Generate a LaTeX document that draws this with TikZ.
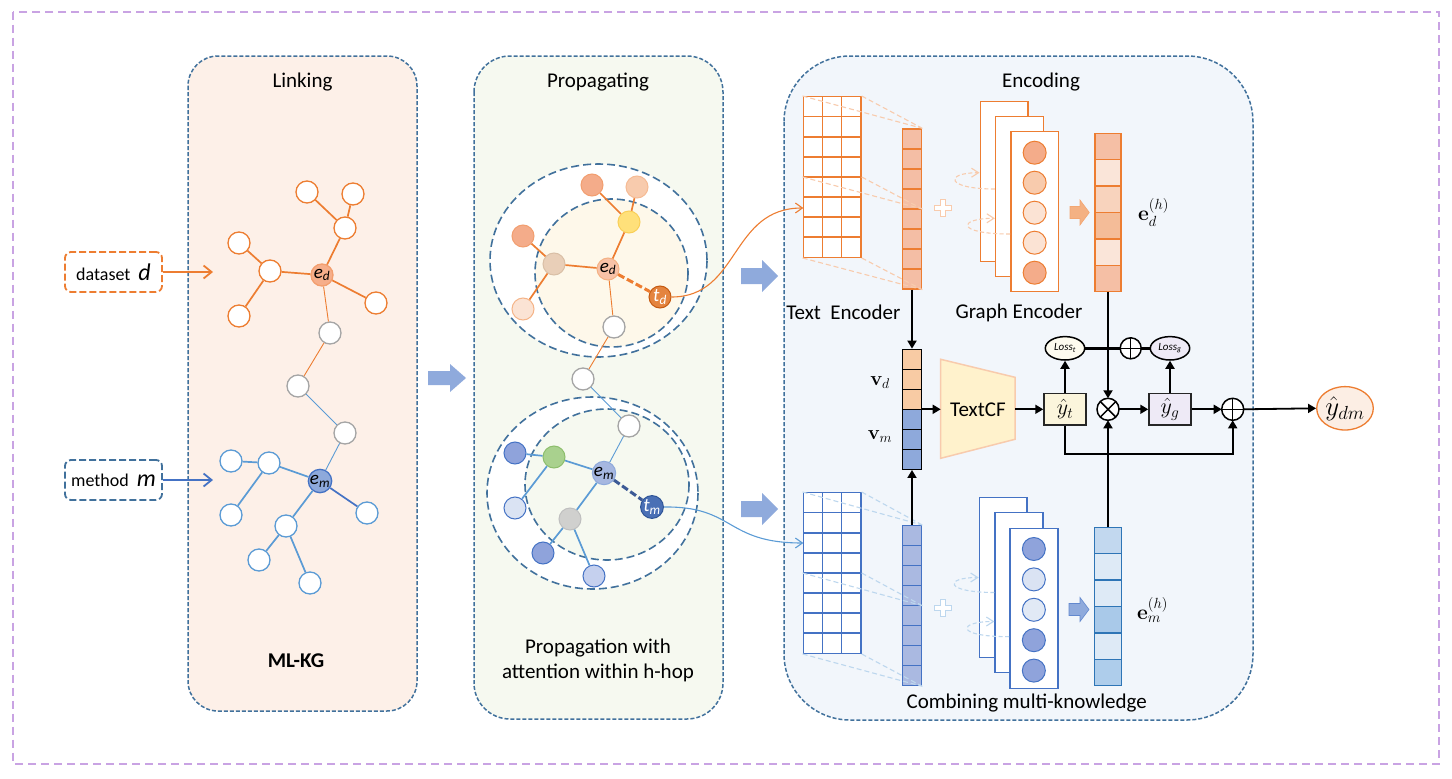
\RequirePackage{fix-cm}
\documentclass[tikz,border=0pt]{standalone}
\usepackage{amsmath}
\usepackage[no-math]{fontspec}
\setmainfont{Carlito}
\usepackage{tikz}
\usetikzlibrary{arrows.meta,shapes.geometric}

\definecolor{outerframe}{HTML}{C9A3E3}
\definecolor{panelblue}{HTML}{41719C}
\definecolor{linkfill}{HTML}{FDF0E8}
\definecolor{propfill}{HTML}{F6F9F0}
\definecolor{encfill}{HTML}{F2F6FB}
\definecolor{kgorange}{HTML}{ED7D31}
\definecolor{kgblue}{HTML}{5B9BD5}
\definecolor{kgdblue}{HTML}{4472C4}
\definecolor{kggray}{HTML}{A5A5A5}
\definecolor{salmon}{HTML}{F4AC8A}
\definecolor{peach}{HTML}{F8CBAD}
\definecolor{lpeach}{HTML}{FBE3D4}
\definecolor{hopcream}{HTML}{FEF8EA}
\definecolor{hopyellow}{HTML}{FFE07A}
\definecolor{hopyellowd}{HTML}{F9CF58}
\definecolor{ntan}{HTML}{E9CFB8}
\definecolor{ntand}{HTML}{D9BFA6}
\definecolor{edfill}{HTML}{F6AE8A}
\definecolor{tdfill}{HTML}{E4843F}
\definecolor{tddraw}{HTML}{C55A11}
\definecolor{emfill}{HTML}{8EA9DB}
\definecolor{pemfill}{HTML}{A6B7E0}
\definecolor{tmfill}{HTML}{4A70B5}
\definecolor{tmdraw}{HTML}{2F5597}
\definecolor{nblue}{HTML}{8FA3DB}
\definecolor{lblue}{HTML}{DAE3F3}
\definecolor{mblue}{HTML}{C5D0EE}
\definecolor{ngreen}{HTML}{A9D18E}
\definecolor{ngreend}{HTML}{8DBE6C}
\definecolor{ngray}{HTML}{D0D0CE}
\definecolor{ngrayd}{HTML}{BFBFBF}
\definecolor{fatblue}{HTML}{8FAADC}
\definecolor{fatorange}{HTML}{F4B183}
\definecolor{tbarfill}{HTML}{F4BEA5}
\definecolor{mbarfill}{HTML}{AAB9E1}
\definecolor{projblue}{HTML}{BDD7EE}
\definecolor{vpeach}{HTML}{F8CBA4}
\definecolor{cffill}{HTML}{FFF2CC}
\definecolor{cfdraw}{HTML}{F8CBAD}
\definecolor{ytfill}{HTML}{FBF5DC}
\definecolor{ygfill}{HTML}{EEEAF6}
\definecolor{lossfill}{HTML}{FDFBEF}
\definecolor{ydmfill}{HTML}{FCEEE4}
\definecolor{eda}{HTML}{F5BFA5}
\definecolor{edb}{HTML}{FAE5D9}
\definecolor{edc}{HTML}{F8D3BD}
\definecolor{edd}{HTML}{F4BC98}
\definecolor{ema}{HTML}{C2D8EF}
\definecolor{emb}{HTML}{DEEAF6}
\definecolor{emc}{HTML}{A9C9E9}
\definecolor{emd}{HTML}{AECDEB}
\definecolor{emline}{HTML}{2E75B6}
\definecolor{hopdash}{HTML}{3C5A96}

\tikzset{
panel/.style={draw=panelblue, line width=1.5pt, dash pattern=on 4pt off 2pt, rounded corners=#1}, % the three stage boxes
title/.style={font=\fontsize{21}{25.6}\selectfont, inner sep=0pt},
kgnode/.style={circle, draw=#1, line width=1.3pt, fill=white, minimum size=22pt, inner sep=0pt, font=\fontsize{19}{19}\selectfont\itshape},
hopnode/.style 2 args={circle, fill=#1, draw=#2, line width=1pt, minimum size=22pt, inner sep=0pt, font=\fontsize{19}{19}\selectfont\itshape},
kgedge/.style={draw=#1, line width=1.7pt},
thinedge/.style={draw=#1, line width=0.9pt},
hopedge/.style={draw=#1, line width=3pt, dash pattern=on 7pt off 3pt},
hop/.style={draw=panelblue, line width=1.6pt, dash pattern=on 8pt off 4pt}, % h-hop rings
inbox/.style={draw=#1, line width=1.8pt, dash pattern=on 7pt off 3pt, rounded corners=6pt, fill=white, minimum width=97pt, minimum height=40pt, inner sep=0pt, font=\fontsize{18}{20}\selectfont},
inarrow/.style={draw=#1, line width=1.8pt, -{Straight Barb[length=8pt,width=13pt]}},
pics/fatarrow/.style n args={4}{code={
  \path[pic actions] (0,-#3) -- (#1-#2,-#3) -- (#1-#2,-#4) -- (#1,0) -- (#1-#2,#4) -- (#1-#2,#3) -- (0,#3) -- cycle;
}},
pics/plussign/.style={code={
  \path[pic actions] (-2.5,-8.5) -- (2.5,-8.5) -- (2.5,-2.5) -- (8.5,-2.5) -- (8.5,2.5) -- (2.5,2.5) -- (2.5,8.5) -- (-2.5,8.5) -- (-2.5,2.5) -- (-8.5,2.5) -- (-8.5,-2.5) -- (-2.5,-2.5) -- cycle;
}},
gridbox/.style={draw=#1, line width=1.4pt, fill=white, minimum width=57.7pt, minimum height=160.6pt, inner sep=0pt},
barbox/.style={draw=#1, line width=1.3pt, minimum width=19.4pt, minimum height=160pt, inner sep=0pt},
proj/.style={draw=#1, line width=1.1pt, dash pattern=on 5pt off 3pt},
card/.style={draw=#1, line width=1.5pt, fill=white, minimum width=47.8pt, minimum height=160pt, inner sep=0pt},
encnode/.style={circle, draw=#1, line width=1pt, minimum size=23pt, inner sep=0pt},
loopline/.style={draw=#1, line width=1.1pt, dash pattern=on 4pt off 2.5pt, -{Straight Barb[length=7pt,width=9pt]}},
curvearrow/.style={draw=#1, line width=1.1pt, -{Straight Barb[length=7pt,width=10pt]}},
mlabel/.style={font=\fontsize{21}{21}\selectfont, inner sep=0pt},
flow/.style={line width=1.8pt, -{Triangle[length=8pt,width=9pt]}}, % black data flow
ybox/.style={draw=black!85, line width=1.5pt, minimum width=42pt, minimum height=31.7pt, inner sep=0pt, font=\fontsize{22}{22}\selectfont},
op/.style={circle, draw, line width=1.5pt, fill=white, minimum size=22pt, inner sep=0pt, outer sep=0pt},
loss/.style={ellipse, draw, line width=1.5pt, minimum width=39.4pt, minimum height=23.4pt, inner sep=0pt, font=\fontsize{11}{11}\selectfont\itshape},
}

\begin{document}
\begin{tikzpicture}[x=1pt, y=-1pt]
\useasboundingbox (0,0) rectangle (1452,779);
\draw[outerframe, line width=1.8pt, dash pattern=on 8pt off 5pt] (13.3,11.7) rectangle (1439.3,763.7);

% stages
\draw[panel=30pt, fill=linkfill] (188,56) rectangle (417,711);
\draw[panel=36pt, fill=propfill] (474,56) rectangle (723,719);
\draw[panel=66pt, fill=encfill] (784,56) rectangle (1253,720);
\node[title] (tlink) at (302.5,82) {Linking};
\node[title] (tprop) at (598,82) {Propagating};
\node[title] (tenc) at (1041,82) {Encoding};
\node[title, font=\fontsize{21}{25.6}\selectfont\bfseries] (mlkg) at (296,661) {ML-KG};
\node[title, align=center] (proplab) at (598,660.5) {Propagation with\\attention within h-hop};

% inputs
\node[inbox=kgorange] (dset) at (113.5,272) {dataset\hspace{8pt}{\fontsize{24}{24}\selectfont\itshape d}};
\node[inbox=panelblue] (meth) at (113.5,480) {method\hspace{8pt}{\fontsize{24}{24}\selectfont\itshape m}};
\coordinate (dend) at (213,272);
\coordinate (mend) at (213,480);
\draw[inarrow=kgorange] (dset) -- (dend);
\draw[inarrow=kgdblue] (meth) -- (mend);

% ML-KG
\node[kgnode=kgorange] (la1) at (307,192) {};
\node[kgnode=kgorange] (la2) at (353,194) {};
\node[kgnode=kgorange] (la3) at (345,228) {};
\node[kgnode=kgorange] (la4) at (239,243) {};
\node[kgnode=kgorange] (la5) at (270,271) {};
\node[kgnode=edfill!70!kgorange, fill=edfill] (ed) at (322,275) {e\textsubscript{d}};
\node[kgnode=kgorange] (la6) at (376,303) {};
\node[kgnode=kgorange] (la7) at (239,316) {};
\node[kgnode=kggray] (lg1) at (330,333) {};
\node[kgnode=kggray] (lg2) at (298,386) {};
\node[kgnode=kggray] (lg3) at (345,433) {};
\node[kgnode=kgblue] (lb1) at (231,461) {};
\node[kgnode=kgblue] (lb2) at (269,463) {};
\node[kgnode=kgdblue, fill=emfill] (em) at (320,481) {e\textsubscript{m}};
\node[kgnode=kgblue] (lb3) at (231,515) {};
\node[kgnode=kgblue] (lb4) at (367,513) {};
\node[kgnode=kgblue] (lb5) at (286,526) {};
\node[kgnode=kgblue] (lb6) at (259,560) {};
\node[kgnode=kgblue] (lb7) at (310,583) {};
\draw (la1) edge[kgedge=kgorange] (la3)
	(la2) edge[kgedge=kgorange] (la3)
	(la3) edge[kgedge=kgorange] (ed)
	(la4) edge[kgedge=kgorange] (la5)
	(la5) edge[kgedge=kgorange] (ed)
	(la5) edge[kgedge=kgorange] (la7)
	(ed) edge[kgedge=kgorange] (la6)
	(ed) edge[thinedge=kgorange] (lg1)
	(lg1) edge[thinedge=kgorange] (lg2)
	(lg2) edge[thinedge=kgblue] (lg3)
	(lg3) edge[thinedge=kgblue] (em)
	(em) edge[kgedge=kgblue] (lb2)
	(lb2) edge[kgedge=kgblue] (lb1)
	(lb2) edge[kgedge=kgblue] (lb3)
	(em) edge[kgedge=kgdblue] (lb4)
	(em) edge[kgedge=kgblue] (lb5)
	(lb5) edge[kgedge=kgblue] (lb6)
	(lb5) edge[kgedge=kgblue] (lb7);

\pic[fill=fatblue] at (428,378) {fatarrow={38}{16}{7}{14}};

% propagation within h-hop
\draw[hop, fill=white] (598.5,260.5) ellipse [x radius=108.5, y radius=96.5];
\draw[hop, fill=hopcream] (611.5,273) ellipse [x radius=76.5, y radius=74];
\draw[hop, fill=white] (592.5,493) ellipse [x radius=105.5, y radius=96];
\draw[hop, fill=propfill] (607,484.5) ellipse [x radius=82, y radius=75.5];
\node[hopnode={salmon}{salmon!70!kgorange}] (pa1) at (592,185) {};
\node[hopnode={peach}{peach!80!kgorange}] (pa2) at (637,187) {};
\node[hopnode={hopyellow}{hopyellowd}] (pa3) at (629,222) {};
\node[hopnode={salmon}{salmon!70!kgorange}] (pa4) at (523,236) {};
\node[hopnode={ntan}{ntand}] (pa5) at (554,264) {};
\node[hopnode={edfill!75!white}{fatorange}] (ped) at (608,269) {e\textsubscript{d}};
\node[hopnode={tdfill}{tddraw}, text=white] (ptd) at (660,297) {t\textsubscript{d}};
\node[hopnode={lpeach}{peach!70!kgorange}] (pa6) at (523,309) {};
\node[kgnode=kggray] (pg1) at (614,327) {};
\node[kgnode=kggray] (pg2) at (583,379) {};
\node[kgnode=kggray] (pg3) at (629,426) {};
\node[hopnode={nblue}{kgdblue}] (pb1) at (515,453) {};
\node[hopnode={ngreen}{ngreend}] (pb2) at (554,457) {};
\node[hopnode={pemfill}{emfill}] (pem) at (604,473) {e\textsubscript{m}};
\node[hopnode={tmfill}{tmdraw}, text=white] (ptm) at (652,507) {t\textsubscript{m}};
\node[hopnode={lblue}{kgdblue}] (pb3) at (515,508) {};
\node[hopnode={ngray}{ngrayd}] (pb4) at (570,519) {};
\node[hopnode={nblue}{kgdblue}] (pb5) at (543,553) {};
\node[hopnode={mblue}{kgdblue}] (pb6) at (594,576) {};
\draw (pa1) edge[kgedge=kgorange] (pa3)
	(pa2) edge[kgedge=kgorange] (pa3)
	(pa3) edge[kgedge=kgorange] (ped)
	(pa4) edge[kgedge=kgorange] (pa5)
	(pa5) edge[kgedge=kgorange] (ped)
	(pa5) edge[kgedge=kgorange] (pa6)
	(ped) edge[thinedge=kgorange] (pg1)
	(pg1) edge[thinedge=kgorange] (pg2)
	(pg2) edge[thinedge=kgblue] (pg3)
	(pg3) edge[thinedge=kgblue] (pem)
	(pem) edge[kgedge=kgblue] (pb2)
	(pb2) edge[kgedge=kgblue] (pb1)
	(pb2) edge[kgedge=kgblue] (pb3)
	(pem) edge[kgedge=kgblue] (pb4)
	(pb4) edge[kgedge=kgblue] (pb5)
	(pb4) edge[kgedge=kgblue] (pb6);
\draw (ped) edge[hopedge=kgorange] (ptd)
	(pem) edge[hopedge=hopdash] (ptm);

\pic[fill=fatblue] at (741,276) {fatarrow={37}{16}{8}{16}};
\pic[fill=fatblue] at (741,509) {fatarrow={37}{16}{8}{16}};

% text encoder, dataset side
\node[gridbox=kgorange] (tgrid) at (832.15,177) {};
\foreach \i in {1,2} \draw[kgorange, line width=1.4pt] (803.3+19.23*\i,96.7) -- ++(0,160.6);
\foreach \j in {1,...,7} \draw[kgorange, line width=1.4pt] (803.3,96.7+20.07*\j) -- ++(57.7,0);
\node[barbox=kgorange, fill=tbarfill] (tbar) at (912,209) {};
\foreach \i in {1,...,7} \draw[kgorange, line width=1.3pt] (902.3,129+20*\i) -- ++(19.4,0);
\draw[proj=peach] (tgrid.north west) -- (tbar.north east) (tgrid.north east) -- (tbar.north east)
	(tgrid.west) -- (tbar.east) (tgrid.east) -- (tbar.east)
	(tgrid.south west) -- (tbar.south east) (tgrid.south east) -- (tbar.south east);
\pic[fill=white, draw=peach, line width=1.2pt] at (943.3,208.3) {plussign};

% graph encoder, dataset side
\node[card=kgorange] (gc1) at (1004.15,181.7) {};
\node[card=kgorange] (gc2) at (1019.5,196.7) {};
\node[card=kgorange] (gc3) at (1034.65,211.7) {};
\draw[loopline=peach] ([yshift=7.7pt]gc2.west) .. controls +(-50,0) and +(-35,0) .. ([yshift=9pt]gc1.west);
\draw[loopline=peach] ([yshift=-22.3pt]gc3.west) .. controls +(-55,0) and +(-37,0) .. ([yshift=-21.6pt]gc2.west);
\foreach \c [count=\i from 0] in {salmon,peach,lpeach,lpeach,salmon}
	\node[encnode=kgorange, fill=\c] (gd\i) at (1034.65,152.7+30*\i) {};
\pic[fill=fatorange, draw=fatorange!80!kgorange, line width=0.6pt] at (1070,212.5) {fatarrow={19.3}{9.3}{6}{12.5}};
\node[minimum width=26pt, minimum height=158.4pt, inner sep=0pt] (edvec) at (1108,212.5) {};
\foreach \c [count=\i from 0] in {eda,edb,edc,edd,edb,eda}
	\draw[fill=\c, draw=kgorange, line width=1.5pt] (1095,133.3+26.4*\i) rectangle ++(26,26.4);
\node[mlabel] (edlab) at (1153.5,212.5) {$\mathbf{e}_d^{(h)}$};
\node[title] (tenclab) at (843.3,312.7) {Text\ \ Encoder};
\node[title] (genclab) at (1019,312.7) {Graph Encoder};

% text encoder, method side
\node[gridbox=kgdblue] (mgrid) at (832.15,573) {};
\foreach \i in {1,2} \draw[kgdblue, line width=1.4pt] (803.3+19.23*\i,492.7) -- ++(0,160.6);
\foreach \j in {1,...,7} \draw[kgdblue, line width=1.4pt] (803.3,492.7+20.07*\j) -- ++(57.7,0);
\node[barbox=kgdblue, fill=mbarfill] (mbar) at (912,605.7) {};
\foreach \i in {1,...,7} \draw[kgdblue, line width=1.3pt] (902.3,525.7+20*\i) -- ++(19.4,0);
\draw[proj=projblue] (mgrid.north west) -- (mbar.north east) (mgrid.north east) -- (mbar.north east)
	(mgrid.west) -- (mbar.east) (mgrid.east) -- (mbar.east)
	(mgrid.south west) -- (mbar.south east) (mgrid.south east) -- (mbar.south east);
\pic[fill=white, draw=projblue, line width=1.2pt] at (943.3,608.3) {plussign};

% graph encoder, method side
\node[card=kgdblue] (hc1) at (1003.3,577.5) {};
\node[card=kgdblue] (hc2) at (1019,592.5) {};
\node[card=kgdblue] (hc3) at (1033.85,608.3) {};
\draw[loopline=projblue] (hc2.west) .. controls +(-50,0) and +(-35,0) .. (hc1.west);
\draw[loopline=projblue] ([yshift=-28.4pt]hc3.west) .. controls +(-55,0) and +(-37,0) .. ([yshift=-29pt]hc2.west);
\foreach \c [count=\i from 0] in {nblue,lblue,lblue!80!white,nblue,nblue}
	\node[encnode=kgdblue, fill=\c] (md\i) at (1033.85,549+30.4*\i) {};
\pic[fill=fatblue, draw=kgdblue!60!fatblue, line width=0.6pt] at (1069,609.5) {fatarrow={20}{9}{6}{12}};
\node[minimum width=26.6pt, minimum height=158.4pt, inner sep=0pt] (emvec) at (1108,606.5) {};
\foreach \c [count=\i from 0] in {ema,emb,emb,emc,emb,emd}
	\draw[fill=\c, draw=emline, line width=1.5pt] (1094.7,527.3+26.4*\i) rectangle ++(26.6,26.4);
\node[mlabel] (emlab) at (1152.5,610) {$\mathbf{e}_m^{(h)}$};
\node[title] (comblab) at (1026.7,703.3) {Combining multi-knowledge};

% TextCF and fusion
\node[barbox=black, minimum height=120pt] (vvec) at (912,409.3) {};
\foreach \c [count=\i from 0] in {vpeach,vpeach,vpeach,emfill,emfill,emfill}
	\draw[fill=\c, line width=1.3pt] (902.3,349.3+20*\i) rectangle ++(19.4,20);
\node[mlabel, font=\fontsize{20}{20}\selectfont] (vdlab) at (880,383) {$\mathbf{v}_d$};
\node[mlabel, font=\fontsize{20}{20}\selectfont] (vmlab) at (880,437) {$\mathbf{v}_m$};
\draw[fill=cffill, draw=cfdraw, line width=1.5pt] (940.7,359.3) -- (1015,377.3) -- (1015,439.3) -- (940.7,458.3) -- cycle;
\node[title] (textcf) at (978,409.3) {TextCF};
\coordinate (cfin) at (940.7,409.3);
\coordinate (cfout) at (1015,409.3);
\node[ybox, fill=ytfill] (yt) at (1065,409.3) {$\hat{y}_t$};
\node[ybox, fill=ygfill] (yg) at (1170,409.3) {$\hat{y}_g$};
\node[loss, fill=lossfill] (losst) at (1065,348.3) {Loss\textsubscript{t}};
\node[loss, fill=ygfill] (lossg) at (1170,348.3) {Loss\textsubscript{g}};
\node[op] (mult) at (1108,409.3) {};
\draw[line width=1.5pt] (mult.north west) -- (mult.south east) (mult.north east) -- (mult.south west);
\node[op] (add) at (1232.7,409.3) {};
\draw[line width=1.5pt] (add.north) -- (add.south) (add.west) -- (add.east);
\node[op, minimum size=21pt] (addl) at (1130.7,348.3) {};
\draw[line width=1.5pt] (addl.north) -- (addl.south) (addl.west) -- (addl.east);
\node[ellipse, draw=kgorange, line width=1.3pt, fill=ydmfill, minimum width=56.6pt, minimum height=43.4pt, inner sep=0pt, font=\fontsize{27}{27}\selectfont] (ydm) at (1345,408.3) {$\hat{y}_{dm}$};

\draw[flow] (tbar.south) -- (vvec.north);
\draw[flow] (mbar.north) -- (vvec.south);
\draw[flow] (vvec.east) -- (cfin);
\draw[flow] (cfout) -- (yt.west);
\draw[flow] (yt.north) -- (losst.south);
\draw[flow] (yg.north) -- (lossg.south);
\draw[flow] (edvec.south) -- (mult.north);
\draw[flow] (emvec.north) -- (mult.south);
\draw[line width=2.4pt] (losst.east) -- (addl.west) (addl.east) -- (lossg.west);
\draw[flow] (mult.east) -- (yg.west);
\draw[flow] (yg.east) -- (add.west);
\draw[flow] (yt.south) -- ++(0,28.3) -| (add.south);
\draw[flow] (add.east) -- (ydm.west);

% target entities into the text encoders
\coordinate (tin) at (803.3,208);
\coordinate (min) at (803.3,543);
\draw[curvearrow=kgorange] (ptd.east) .. controls (740,297) and (730,208) .. (tin);
\draw[curvearrow=kgblue] (ptm.east) .. controls (735,506) and (725,543) .. (min);
\end{tikzpicture}
\end{document}
